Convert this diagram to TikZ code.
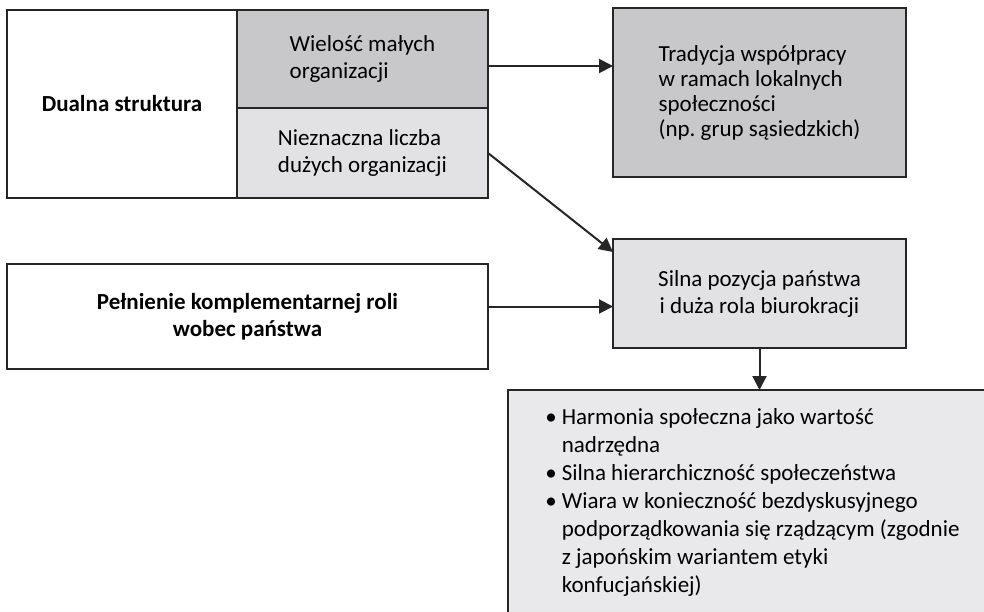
\documentclass[tikz,border=0pt]{standalone}
\usepackage{fontspec}
\setmainfont{Carlito}
\usepackage{xcolor}
\usepackage{tikz}
\usetikzlibrary{arrows.meta,positioning}
\frenchspacing
\definecolor{edgegray}{HTML}{262626}
\definecolor{darkfill}{HTML}{C8C8CA}
\definecolor{lightfill}{HTML}{E2E2E4}
\definecolor{listfill}{HTML}{E9E9EB}
\tikzset{
  box/.style={rectangle, draw=edgegray, line width=0.9pt, align=center, inner sep=0pt, outer sep=0pt,
    anchor=north west, font=\fontsize{11.5}{13.5}\selectfont},
  darkbox/.style={box, fill=darkfill, align=left},
  lightbox/.style={box, fill=lightfill, align=left},
  line/.style={-{Triangle[length=7pt,width=7pt]}, line width=1pt, draw=edgegray}
}

\begin{document}
\begin{tikzpicture}[x=0.5pt, y=-0.5pt]
  \clip (0,0) rectangle (984,611);
  \node[box, minimum width=115pt, minimum height=94pt, font=\fontsize{11.5}{13.5}\selectfont\bfseries] (dual) at (7,10) {Dualna struktura};
  \node[darkbox, minimum width=125.5pt, minimum height=49pt] (small) at (237,10) {Wielość małych\\organizacji};
  \node[lightbox, minimum width=125.5pt, minimum height=45pt, anchor=north, below=0pt of small] (few) {Nieznaczna liczba\\dużych organizacji};
  \node[darkbox, minimum width=146.5pt, minimum height=84.5pt, font=\fontsize{11.5}{12.5}\selectfont] (tradition) at (613,8) {Tradycja współpracy\\w ramach lokalnych\\społeczności\\(np. grup sąsiedzkich)};
  \node[box, minimum width=240.5pt, minimum height=52.5pt, font=\fontsize{11.5}{13.5}\selectfont\bfseries] (role) at (7,264) {Pełnienie komplementarnej roli\\wobec państwa};
  \node[lightbox, align=center, minimum width=146.5pt, minimum height=54.5pt] (state) at (613,239) {Silna pozycja państwa\\i duża rola biurokracji};
  \node[box, fill=listfill, minimum width=260pt, minimum height=140pt] (values) at (508,390) {};
  \node[anchor=north west, inner sep=0pt, font=\fontsize{11.5}{14}\selectfont] (valuestext) at ([xshift=18.5pt, yshift=-7pt]values.north west) {%
    \begin{tabular}{@{}l@{\hspace{2.5pt}}l@{}}
      \textbullet & Harmonia społeczna jako wartość\\
                  & nadrzędna\\
      \textbullet & Silna hierarchiczność społeczeństwa\\
      \textbullet & Wiara w konieczność bezdyskusyjnego\\
                  & podporządkowania się rządzącym (zgodnie\\
                  & z japońskim wariantem etyki\\
                  & konfucjańskiej)
    \end{tabular}};
  \draw[line] ([yshift=-3.5pt]small.east) -- ([yshift=-3.5pt]small.east -| tradition.west);
  \draw[line] (few.east) -- ([yshift=-6.5pt]state.north west);
  \draw[line] ([yshift=5pt]role.east) -- ([yshift=5pt]role.east -| state.west);
  \draw[line] (state.south) -- (state.south |- values.north);
\end{tikzpicture}
\end{document}
